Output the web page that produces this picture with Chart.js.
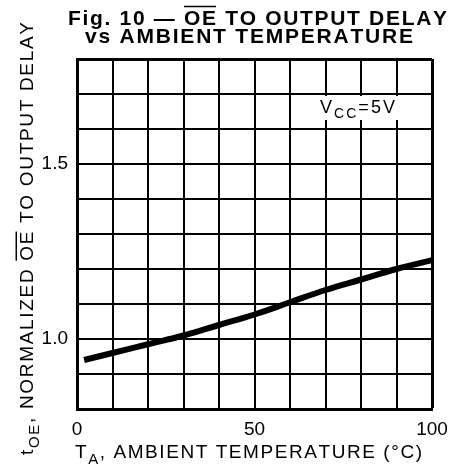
<!DOCTYPE html>
<html>
<head>
<meta charset="utf-8">
<script src="https://cdn.jsdelivr.net/npm/chart.js@4"></script>
<style>
  html, body { margin: 0; padding: 0; background: #fff; }
</style>
</head>
<body>
<canvas id="chart" width="462" height="469"></canvas>
<script>
// data
const temps = [2, 10, 20, 30, 40, 50, 60, 70, 80, 90, 100];
const delay = [0.94, 0.96, 0.985, 1.01, 1.04, 1.07, 1.105, 1.14, 1.17, 1.20, 1.225];
const xTickLabels = [0, 50, 100];
const yTickLabels = [1.0, 1.5];

const FONT = '"Liberation Sans", Arial, sans-serif';

// draws a run of segments char by char, spread to fill a given width
// seg: { text, sub, over }
function drawRich(ctx, segs, x, y, width, size, weight) {
    const fontFor = s => (weight || 'normal') + ' ' + (s.sub ? Math.round(size * 0.78) : size) + 'px ' + FONT;
    let natural = 0, count = 0;
    segs.forEach(s => {
        ctx.font = fontFor(s);
        for (const ch of s.text) { natural += ctx.measureText(ch).width; count++; }
    });
    const gap = width ? (width - natural) / (count - 1) : 0;
    let cx = x;
    ctx.textBaseline = 'alphabetic';
    ctx.textAlign = 'left';
    segs.forEach(s => {
        ctx.font = fontFor(s);
        const start = cx;
        const dy = s.sub ? size * 0.3 : 0;
        for (const ch of s.text) {
            ctx.fillText(ch, cx, y + dy);
            cx += ctx.measureText(ch).width + gap;
        }
        if (s.over) {
            ctx.save();
            ctx.lineWidth = 1.5;
            ctx.beginPath();
            ctx.moveTo(start, y - size * 0.88);
            ctx.lineTo(cx - gap, y - size * 0.88);
            ctx.stroke();
            ctx.restore();
        }
    });
}

const labelsPlugin = {
    id: 'labels',
    afterDraw(chart) {
        const ctx = chart.ctx;
        ctx.save();
        ctx.fillStyle = '#000';
        ctx.strokeStyle = '#000';

        // title
        drawRich(ctx, [
            { text: 'Fig. 10 \u2014 ' },
            { text: 'OE', over: true },
            { text: ' TO OUTPUT DELAY' }
        ], 68, 25, 379, 21, 'bold');
        drawRich(ctx, [{ text: 'vs AMBIENT TEMPERATURE' }], 85, 43, 328, 21, 'bold');

        // x axis title
        drawRich(ctx, [
            { text: 'T' },
            { text: 'A', sub: true },
            { text: ', AMBIENT TEMPERATURE (\u00B0C)' }
        ], 75, 458, 347, 19);

        // y axis title, rotated
        ctx.save();
        ctx.translate(33, 455);
        ctx.rotate(-Math.PI / 2);
        drawRich(ctx, [
            { text: 't' },
            { text: 'OE', sub: true },
            { text: ', NORMALIZED ' },
            { text: 'OE', over: true },
            { text: ' TO OUTPUT DELAY' }
        ], 0, 0, 433, 19);
        ctx.restore();

        // supply voltage note
        ctx.fillStyle = '#fff';
        ctx.fillRect(318, 96, 80, 24);
        ctx.fillStyle = '#000';
        drawRich(ctx, [
            { text: 'V' },
            { text: 'CC', sub: true },
            { text: '=5V' }
        ], 320, 113, 75, 18);

        ctx.restore();
    }
};

const edge = (ctx, lastIndex) => (ctx.index === lastIndex ? 3 : 2);

new Chart(document.getElementById('chart').getContext('2d'), {
    type: 'line',
    data: {
        datasets: [{
            data: temps.map((t, i) => ({ x: t, y: delay[i] })),
            borderColor: '#000',
            borderWidth: 6,
            pointRadius: 0,
            tension: 0.4,
            fill: false
        }]
    },
    options: {
        responsive: false,
        animation: false,
        layout: { padding: { top: 59, right: 30, bottom: 0, left: 0 } },
        plugins: {
            legend: { display: false },
            tooltip: { enabled: false }
        },
        scales: {
            x: {
                type: 'linear',
                min: 0,
                max: 100,
                afterFit: scale => { scale.height = 60; },
                grid: { color: '#000', lineWidth: c => edge(c, 10), drawTicks: false },
                border: { color: '#000', width: 3 },
                ticks: {
                    stepSize: 10,
                    padding: 9,
                    color: '#000',
                    font: { family: FONT, size: 19 },
                    maxRotation: 0,
                    autoSkip: false,
                    callback: v => (xTickLabels.includes(v) ? String(v) : '')
                }
            },
            y: {
                min: 0.8,
                max: 1.8,
                afterFit: scale => { scale.width = 77; },
                grid: { color: '#000', lineWidth: c => edge(c, 10), drawTicks: false },
                border: { color: '#000', width: 3 },
                ticks: {
                    stepSize: 0.1,
                    padding: 9,
                    color: '#000',
                    font: { family: FONT, size: 19 },
                    autoSkip: false,
                    callback: v => {
                        const hit = yTickLabels.find(t => Math.abs(t - v) < 1e-6);
                        return hit !== undefined ? hit.toFixed(1) : '';
                    }
                }
            }
        }
    },
    plugins: [labelsPlugin]
});
</script>
</body>
</html>
